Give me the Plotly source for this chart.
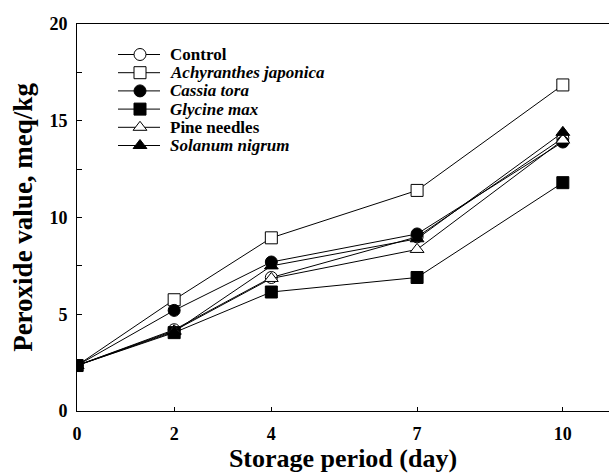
import plotly.graph_objects as go

days = [0, 2, 4, 7, 10]
series_names = ["Control", "<i>Achyranthes japonica</i>", "<i>Cassia tora</i>",
                "<i>Glycine max</i>", "Pine needles", "<i>Solanum nigrum</i>"]
control = [2.35, 4.2, 6.9, 9.0, 14.1]
achyranthes = [2.35, 5.75, 8.95, 11.4, 16.85]
cassia = [2.35, 5.2, 7.7, 9.15, 13.9]
glycine = [2.35, 4.05, 6.15, 6.9, 11.8]
pine = [2.35, 4.15, 6.85, 8.35, 14.0]
solanum = [2.35, 4.1, 7.5, 8.9, 14.4]

values = [control, achyranthes, cassia, glycine, pine, solanum]
symbols = ["circle", "square", "circle", "square", "triangle-up", "triangle-up"]
fills = ["white", "white", "black", "black", "white", "black"]

W, H = 609, 476
ML, MR, MT, MB = 77, 0, 24, 65
PW, PH = W - ML - MR, H - MT - MB
font_family = "Liberation Serif"

def px_to_paper(px, py):
    return (px - ML) / PW, (H - MB - py) / PH

fig = go.Figure()
for name, vals, sym, fc in zip(series_names, values, symbols, fills):
    fig.add_trace(go.Scatter(
        x=days, y=vals, name=name, mode="lines+markers", showlegend=False,
        line=dict(color="black", width=1),
        marker=dict(symbol=sym, size=12, color=fc, line=dict(color="black", width=1)),
    ))

# custom legend (overlay axes spanning the plot area, range 0..1)
leg_rows_py = [54.5, 72.7, 90.9, 109.1, 127.3, 145.5]
annotations = []
for name, sym, fc, py in zip(series_names, symbols, fills, leg_rows_py):
    x0, y0 = px_to_paper(118, py)
    x1, _ = px_to_paper(160, py)
    xm, _ = px_to_paper(140, py)
    xt, _ = px_to_paper(168, py)
    fig.add_trace(go.Scatter(x=[x0, x1], y=[y0, y0], xaxis="x2", yaxis="y2",
                             mode="lines", showlegend=False, hoverinfo="skip",
                             line=dict(color="black", width=1)))
    fig.add_trace(go.Scatter(x=[xm], y=[y0], xaxis="x2", yaxis="y2",
                             mode="markers", showlegend=False, hoverinfo="skip",
                             marker=dict(symbol=sym, size=12, color=fc,
                                         line=dict(color="black", width=1))))
    annotations.append(dict(x=xt, y=y0, xref="paper", yref="paper", text=name,
                            showarrow=False, xanchor="left", yanchor="middle",
                            font=dict(family=font_family, size=17, color="black",
                                      weight="bold")))

fig.update_layout(
    width=W, height=H,
    margin=dict(l=ML, r=MR, t=MT, b=MB),
    plot_bgcolor="white", paper_bgcolor="white",
    showlegend=False,
    font=dict(family=font_family, color="black"),
    annotations=annotations,
    xaxis2=dict(overlaying="x", range=[0, 1], visible=False, fixedrange=True),
    yaxis2=dict(overlaying="y", range=[0, 1], visible=False, fixedrange=True),
)
fig.layout.xaxis.update(
    range=[0, 10.95], tickvals=days, ticktext=[str(d) for d in days],
    showline=True, linecolor="black", linewidth=1, mirror=True,
    ticks="inside", ticklen=4, tickcolor="black", showgrid=False, zeroline=False,
    ticklabelstandoff=6,
    tickfont=dict(family=font_family, size=18, weight="bold"),
    title=dict(text="Storage period (day)", standoff=4,
               font=dict(family=font_family, size=26, weight="bold")),
)
fig.layout.yaxis.update(
    range=[0, 20], dtick=5, tick0=0,
    showline=True, linecolor="black", linewidth=1, mirror=False,
    ticks="inside", ticklen=5, tickcolor="black", showgrid=False, zeroline=False,
    minor=dict(dtick=2.5, ticks="inside", ticklen=5, tickcolor="black", showgrid=False),
    ticklabelstandoff=5,
    tickfont=dict(family=font_family, size=18, weight="bold"),
    title=dict(text="Peroxide value, meq/kg", standoff=8,
               font=dict(family=font_family, size=27, weight="bold")),
)
fig.write_html("out.html")
